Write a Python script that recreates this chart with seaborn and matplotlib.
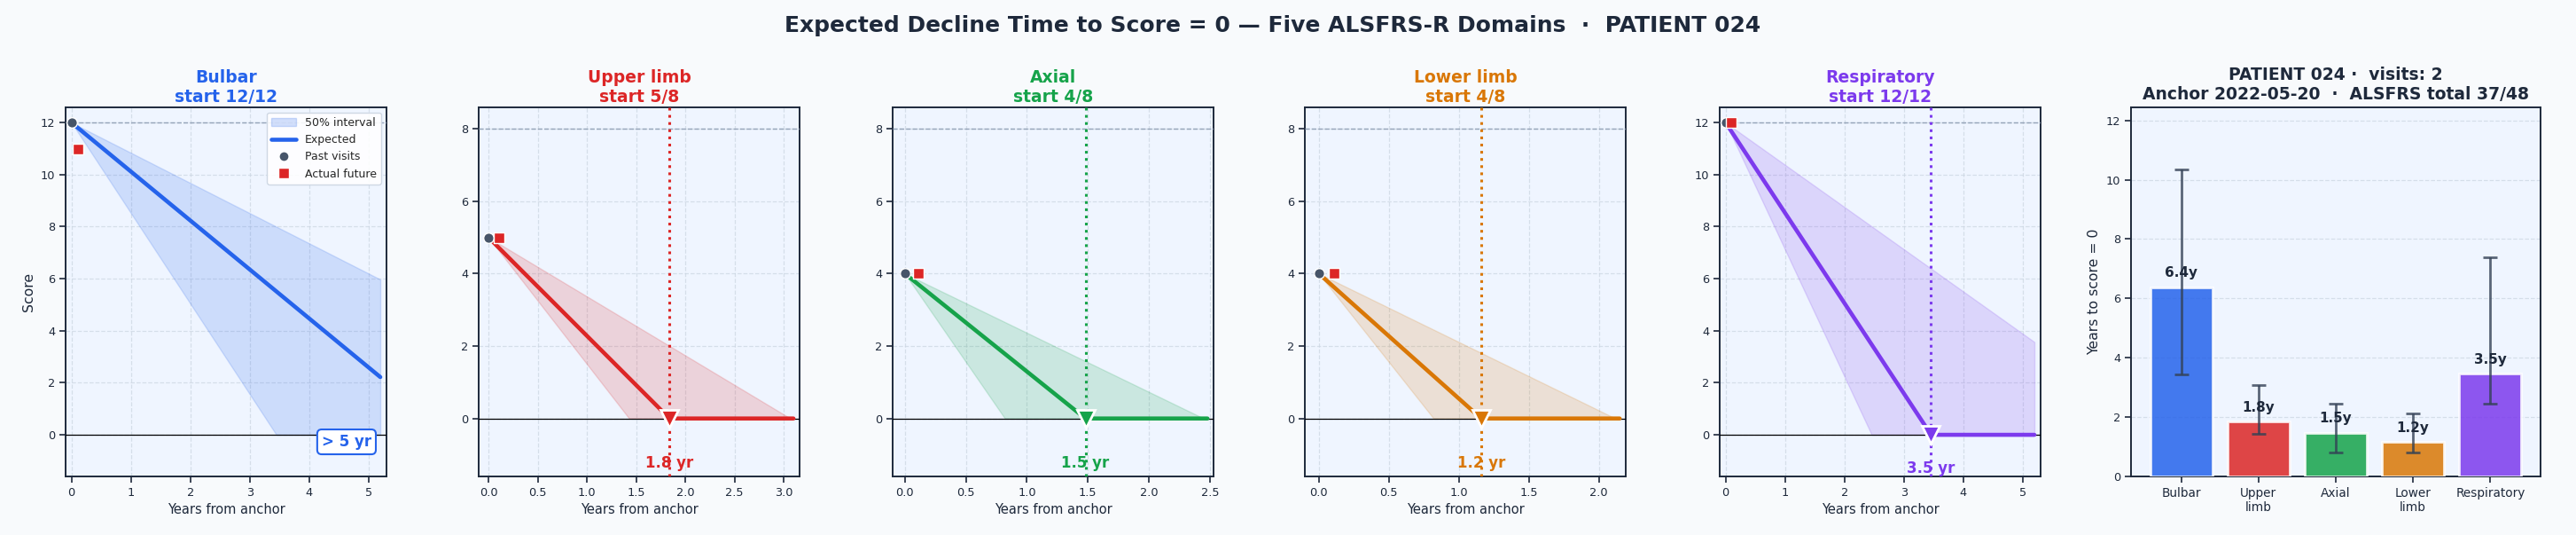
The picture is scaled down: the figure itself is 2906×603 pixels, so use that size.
import numpy as np
import pandas as pd
import matplotlib
matplotlib.use("Agg")
import matplotlib.pyplot as plt
import seaborn as sns
from matplotlib.patches import Patch
from matplotlib.lines import Line2D

# ---------------- data ----------------
domains = ["Bulbar", "Upper limb", "Axial", "Lower limb", "Respiratory"]
bar_ticklabels = ["Bulbar", "Upper\nlimb", "Axial", "Lower\nlimb", "Respiratory"]
domain_colors = ["#2563eb", "#dc2626", "#16a34a", "#d97706", "#7c3aed"]
max_scores = [12, 8, 8, 8, 12]
start_scores = [12, 5, 4, 4, 12]
future_scores = [11, 5, 4, 4, 12]
future_years = [0.11, 0.11, 0.11, 0.11, 0.10]
years_to_zero = [6.38, 1.84, 1.48, 1.16, 3.46]
years_lo = [3.45, 1.43, 0.82, 0.82, 2.46]
years_hi = [10.35, 3.07, 2.45, 2.12, 7.40]
plot_horizon = [5.2, 3.1, 2.48, 2.15, 5.2]
cap_years = 5
patient = "PATIENT 024"
n_visits = 2
anchor_date = "2022-05-20"
total_score, total_max = 37, 48

# ---------------- style ----------------
sns.set_theme(style="ticks")
plt.rcParams["font.family"] = ["DejaVu Sans"]
plt.rcParams.update({
    "axes.edgecolor": "#1e293b",
    "axes.linewidth": 1.4,
    "xtick.color": "#1e293b",
    "ytick.color": "#1e293b",
    "xtick.major.size": 5,
    "ytick.major.size": 5,
    "xtick.major.width": 1.2,
    "ytick.major.width": 1.2,
    "xtick.labelsize": 9.3,
    "ytick.labelsize": 9.3,
})

FIG_BG = "#f8fafc"
AX_BG = "#eff5ff"
TXT = "#1e293b"

W, H = 2906, 603
fig = plt.figure(figsize=(W / 100, H / 100), dpi=100, facecolor=FIG_BG)

lefts = [74, 540, 1007, 1472, 1940]
ax_w = 362
ax_bottom = (H - 537) / H
ax_h = (537 - 120.6) / H

line_axes = [fig.add_axes([l / W, ax_bottom, ax_w / W, ax_h]) for l in lefts]
axb = fig.add_axes([2404 / W, ax_bottom, 462 / W, ax_h])

for i, ax in enumerate(line_axes):
    c = domain_colors[i]
    s0 = start_scores[i]
    mx = max_scores[i]
    t0 = years_to_zero[i]
    tl, th = years_lo[i], years_hi[i]
    h = plot_horizon[i]
    ax.set_facecolor(AX_BG)

    # interval band (piecewise linear through kink points)
    nodes = sorted(set([0.0, h] + [t for t in (tl, th) if t < h]))
    nodes = np.array(nodes)
    lo_curve = np.clip(s0 * (1 - nodes / tl), 0, None)
    hi_curve = np.clip(s0 * (1 - nodes / th), 0, None)
    ax.fill_between(nodes, lo_curve, hi_curve, color=c, alpha=0.17, lw=1.0, zorder=2)

    # expected trajectory
    if t0 < h:
        xs = [0.0, t0, h]
        ys = [s0, 0.0, 0.0]
    else:
        xs = [0.0, h]
        ys = [s0, s0 * (1 - h / t0)]
    sns.lineplot(x=xs, y=ys, ax=ax, color=c, lw=3.3, sort=False,
                 estimator=None, zorder=4)

    ax.axhline(0, color="black", lw=0.9, zorder=3)
    ax.axhline(mx, color="#94a3b8", lw=1.0, ls="--", zorder=3)

    sns.scatterplot(x=[0.0], y=[s0], ax=ax, color="#475569", s=70,
                    edgecolor="white", linewidth=1.0, zorder=6)
    sns.scatterplot(x=[future_years[i]], y=[future_scores[i]], ax=ax,
                    marker="s", color="#dc2626", s=80, edgecolor="white",
                    linewidth=1.0, zorder=7)

    ax.set_xlim(-0.1, h * 1.02)
    ax.set_ylim(-1.6, mx + 0.6)

    if t0 < h:
        ax.axvline(t0, color=c, ls=":", lw=2.2, zorder=3)
        ax.plot([t0], [0], marker="v", ms=14, color=c, mec="white", mew=2,
                zorder=8, clip_on=False)
        ax.text(t0, -1.0, f"{t0:.1f} yr", ha="center", va="top",
                fontsize=12, fontweight="bold", color=c, zorder=9)
    else:
        ax.text(0.953, 0.072, f"> {cap_years} yr", transform=ax.transAxes,
                ha="right", va="bottom", fontsize=12, fontweight="bold",
                color=c, zorder=9,
                bbox=dict(boxstyle="round,pad=0.3", facecolor="white",
                          edgecolor=c, lw=1.5))

    ax.grid(True, ls="--", color="#cbd5e1", lw=0.9, alpha=0.7)
    ax.set_axisbelow(True)
    ax.set_title(f"{domains[i]}\nstart {s0}/{mx}", color=c,
                 fontsize=13.5, fontweight="bold", pad=4)
    ax.set_xlabel("Years from anchor", fontsize=10.5, color=TXT)
    ax.set_ylabel("Score" if i == 0 else "", fontsize=11.3, color=TXT)
    for sp in ax.spines.values():
        sp.set_visible(True)
        sp.set_color(TXT)
        sp.set_linewidth(1.4)

    if i == 0:
        handles = [
            Patch(facecolor=c, alpha=0.2, edgecolor=c, label="50% interval"),
            Line2D([0], [0], color=c, lw=3.3, label="Expected"),
            Line2D([0], [0], marker="o", color="none", markerfacecolor="#475569",
                   markeredgecolor="white", ms=8, label="Past visits"),
            Line2D([0], [0], marker="s", color="none", markerfacecolor="#dc2626",
                   markeredgecolor="white", ms=8, label="Actual future"),
        ]
        leg = ax.legend(handles=handles, loc="upper right", fontsize=9,
                        frameon=True, framealpha=0.9, edgecolor="#cbd5e1",
                        fancybox=True, borderpad=0.4, handlelength=2.2)
        leg.get_frame().set_facecolor("white")
        leg.set_zorder(10)

# ---------------- bar summary ----------------
axb.set_facecolor(AX_BG)
df = pd.DataFrame({"domain": bar_ticklabels, "years": years_to_zero})
sns.barplot(data=df, x="domain", y="years", hue="domain", palette=domain_colors,
            legend=False, alpha=0.85, saturation=1, edgecolor="white",
            linewidth=2, width=0.8, ax=axb, zorder=3)
xpos = np.arange(len(domains))
yv = np.array(years_to_zero)
axb.errorbar(xpos, yv, yerr=[yv - np.array(years_lo), np.array(years_hi) - yv],
             fmt="none", ecolor="#334155", alpha=0.8, elinewidth=2, capsize=6,
             capthick=2, zorder=5)
for x, v in zip(xpos, years_to_zero):
    axb.text(x, v + 0.25, f"{v:.1f}y", ha="center", va="bottom",
             fontsize=11, fontweight="bold", color=TXT, zorder=6)
axb.set_xlim(-0.65, 4.65)
axb.set_ylim(0, 12.45)
axb.set_yticks(np.arange(0, 13, 2))
axb.yaxis.grid(True, ls="--", color="#cbd5e1", lw=0.9, alpha=0.7)
axb.set_axisbelow(True)
axb.set_xlabel("")
axb.set_ylabel("Years to score = 0", fontsize=11.3, color=TXT)
axb.tick_params(axis="x", labelsize=9.8)
axb.set_title(f"{patient} \u00b7  visits: {n_visits}\nAnchor {anchor_date}  \u00b7  ALSFRS total {total_score}/{total_max}",
              fontsize=13.5, fontweight="bold", color=TXT, pad=6)
for sp in axb.spines.values():
    sp.set_visible(True)
    sp.set_color(TXT)
    sp.set_linewidth(1.4)

fig.suptitle(f"Expected Decline Time to Score = 0 \u2014 Five ALSFRS-R Domains  \u00b7  {patient}",
             fontsize=18, fontweight="bold", color=TXT, x=0.494, y=0.972)

fig.savefig("out.png", dpi=100, facecolor=FIG_BG)
